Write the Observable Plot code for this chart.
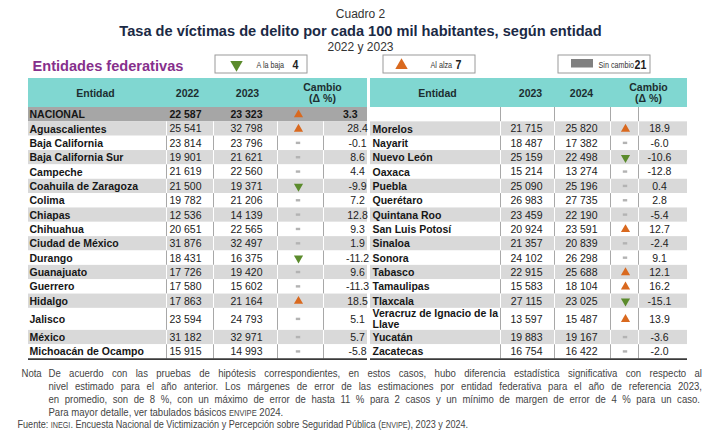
<!DOCTYPE html>
<html><head><meta charset="utf-8">
<script src="https://cdn.jsdelivr.net/npm/d3@7"></script>
<script src="https://cdn.jsdelivr.net/npm/@observablehq/plot@0.6"></script>
<style>body{margin:0;background:#fff} svg{display:block}</style>
</head><body><div id="chart"></div>
<script>
// ---------- DATA ----------
const cuadroLabel = "Cuadro 2";
const titleText = "Tasa de víctimas de delito por cada 100 mil habitantes, según entidad";
const subtitleText = "2022 y 2023";
const sectionLabel = "Entidades federativas";
const legendLabels = ["A la baja", "Al alza", "Sin cambio"];
const legendKinds = ["down", "up", "none"];
const legendCounts = [4, 7, 21];
const leftHeaders = ["Entidad", "2022", "2023", "Cambio\n(Δ %)"];
const rightHeaders = ["Entidad", "2023", "2024", "Cambio\n(Δ %)"];

const leftEntities = ["NACIONAL","Aguascalientes","Baja California","Baja California Sur","Campeche","Coahuila de Zaragoza","Colima","Chiapas","Chihuahua","Ciudad de México","Durango","Guanajuato","Guerrero","Hidalgo","Jalisco","México","Michoacán de Ocampo"];
const left2022 = [22587,25541,23814,19901,21619,21500,19782,12536,20651,31876,18431,17726,17580,17863,23594,31182,15915];
const left2023 = [23323,32798,23796,21621,22560,19371,21206,14139,22565,32497,16375,19420,15602,21164,24793,32971,14993];
const leftChange = [3.3,28.4,-0.1,8.6,4.4,-9.9,7.2,12.8,9.3,1.9,-11.2,9.6,-11.3,18.5,5.1,5.7,-5.8];
const leftTrend = ["up","up","none","none","none","down","none","none","none","none","down","none","none","up","none","none","none"];

const rightEntities = ["","Morelos","Nayarit","Nuevo León","Oaxaca","Puebla","Querétaro","Quintana Roo","San Luis Potosí","Sinaloa","Sonora","Tabasco","Tamaulipas","Tlaxcala","Veracruz de Ignacio de la\nLlave","Yucatán","Zacatecas"];
const right2023 = [null,21715,18487,25159,15214,25090,26983,23459,20924,21357,24102,22915,15583,27115,13597,19883,16754];
const right2024 = [null,25820,17382,22498,13274,25196,27735,22190,23591,20839,26298,25688,18104,23025,15487,19167,16422];
const rightChange = [null,18.9,-6.0,-10.6,-12.8,0.4,2.8,-5.4,12.7,-2.4,9.1,12.1,16.2,-15.1,13.9,-3.6,-2.0];
const rightTrend = [null,"up","none","down","none","none","none","none","up","none","none","up","up","down","up","none","none"];

const noteLabel = "Nota";
const noteLines = [
  "De acuerdo con las pruebas de hipótesis correspondientes, en estos casos, hubo diferencia estadística significativa con respecto al",
  "nivel estimado para el año anterior. Los márgenes de error de las estimaciones por entidad federativa para el año de referencia 2023,",
  "en promedio, son de 8 %, con un máximo de error de hasta 11 % para 2 casos y un mínimo de margen de error de 4 % para un caso.",
  "Para mayor detalle, ver tabulados básicos ENVIPE 2024."
];
const sourceLine = "Fuente: INEGI. Encuesta Nacional de Victimización y Percepción sobre Seguridad Pública (ENVIPE), 2023 y 2024.";

// ---------- LAYOUT / STYLE ----------
const W = 720, H = 437;
const SANS = "'Liberation Sans', Arial, Helvetica, sans-serif";
const NARROW = "'Liberation Sans Narrow', 'Arial Narrow', 'Liberation Sans', Arial, sans-serif";
const ORANGE = "#d9691f", GREEN = "#5b8b2c", CYAN = "#80d7d1", GRAY_ROW = "#d9d9d9", NAT_ROW = "#a6a6a6";
const HEAD_TOP = 78, TOP = 107, ROW_H = 14.35, TALL_H = 22, TALL_ROW = 14;
const rowTop = i => TOP + i * ROW_H + (i > TALL_ROW ? TALL_H - ROW_H : 0);
const rowHeight = i => (i === TALL_ROW ? TALL_H : ROW_H);
const BOTTOM = rowTop(leftEntities.length);

const panels = [
  {side: "L", x0: 28, x1: 367, nameX: 29, v1X: 185, v2X: 246, arrowX: 298, chgX: 357, chgAnchor: "end",
   lines: [166, 213, 277, 323], hdrX: [95, 187, 247, 322], headers: leftHeaders,
   names: leftEntities, a: left2022, b: left2023, chg: leftChange, trend: leftTrend},
  {side: "R", x0: 370, x1: 687, nameX: 372, v1X: 526, v2X: 581, arrowX: 625, chgX: 659, chgAnchor: "middle",
   lines: [500, 554, 610, 638], hdrX: [437, 530, 581, 648], headers: rightHeaders,
   names: rightEntities, a: right2023, b: right2024, chg: rightChange, trend: rightTrend}
];

const fmtN = v => (v == null ? "" : d3.format(",")(v).replace(/,/g, " "));
const fmtC = v => (v == null ? "" : v.toFixed(1));

const rows = [];
const segs = [];
const headers = [];
for (const p of panels) {
  p.headers.forEach((h, k) => headers.push({text: h, x: p.hdrX[k]}));
  p.names.forEach((name, i) => {
    const special = p.side === "L" && i === 0;
    const r = {
      p, i, name, special,
      a: fmtN(p.a[i]), b: fmtN(p.b[i]), c: fmtC(p.chg[i]), trend: p.trend[i],
      y0: rowTop(i), y1: rowTop(i) + rowHeight(i), yc: rowTop(i) + rowHeight(i) / 2,
      fill: special ? NAT_ROW : (i % 2 === 1 ? GRAY_ROW : "#ffffff")
    };
    rows.push(r);
    if (!special) {
      for (const lx of p.lines) segs.push({x: lx, y0: r.y0, y1: r.y1, stroke: i % 2 === 1 ? "#ffffff" : "#a8a8a8"});
    }
  });
}
const normal = rows.filter(r => !r.special);
const nat = rows.filter(r => r.special);

const legend = legendLabels.map((label, k) => ({
  label, kind: legendKinds[k], count: legendCounts[k],
  x0: [215, 383, 558][k], x1: [307, 475, 650][k],
  iconX: [236, 401, 582][k], labelX: [256, 430, 598][k], countX: [292, 455, 634][k]
}));
const LEG_Y0 = 55, LEG_Y1 = 73, LEG_YC = 64.5;

const NOTE_Y = [373, 386, 399, 412];
const SOURCE_Y = 424;
const NOTE_X = 48, SOURCE_X = 17;
const NOTE_TARGET = [702, 702, 700, 283];
const SOURCE_TARGET = 468;
const SECTION_X = 32, SECTION_TARGET = 183;

const k = v => () => v;

const plot = Plot.plot({
  width: W, height: H, margin: 0,
  x: {type: "linear", domain: [0, W], range: [0, W], axis: null},
  y: {type: "linear", domain: [0, H], range: [0, H], axis: null},
  color: {type: "identity"},
  marks: [
    Plot.rect(panels, {x1: "x0", x2: "x1", y1: k(HEAD_TOP), y2: k(TOP), fill: CYAN}),
    Plot.rect(rows, {x1: d => d.p.x0, x2: d => d.p.x1, y1: "y0", y2: "y1", fill: "fill"}),
    Plot.ruleX(segs, {x: "x", y1: "y0", y2: "y1", stroke: "stroke", strokeWidth: 1}),
    Plot.ruleY(panels, {y: k(BOTTOM), x1: "x0", x2: "x1", stroke: "#3a3a3a", strokeWidth: 1.6}),
    Plot.text(headers, {x: "x", y: k(92.5), text: "text", fontFamily: SANS, fontWeight: "bold", fontSize: 10.5, fill: "#1c2e30", lineHeight: 1.05}),
    Plot.text(rows, {x: d => d.p.nameX, y: "yc", text: "name", textAnchor: "start", fontFamily: SANS, fontWeight: "bold", fontSize: 10.5, fill: "#161616", lineHeight: 1.05}),
    Plot.text(normal, {x: d => d.p.v1X, y: "yc", text: "a", fontFamily: SANS, fontSize: 10.5, fill: "#222"}),
    Plot.text(normal, {x: d => d.p.v2X, y: "yc", text: "b", fontFamily: SANS, fontSize: 10.5, fill: "#222"}),
    Plot.text(normal, {x: d => d.p.chgX, y: "yc", text: "c", textAnchor: d => d.p.chgAnchor, fontFamily: SANS, fontSize: 10.5, fill: "#222"}),
    Plot.text(nat, {x: d => d.p.v1X, y: "yc", text: "a", fontFamily: SANS, fontWeight: "bold", fontSize: 10.5, fill: "#161616"}),
    Plot.text(nat, {x: d => d.p.v2X, y: "yc", text: "b", fontFamily: SANS, fontWeight: "bold", fontSize: 10.5, fill: "#161616"}),
    Plot.text(nat, {x: d => d.p.chgX, y: "yc", text: "c", textAnchor: "end", fontFamily: SANS, fontWeight: "bold", fontSize: 10.5, fill: "#161616"}),
    Plot.dot(rows.filter(r => r.trend === "up"), {x: d => d.p.arrowX, y: "yc", symbol: "triangle", r: 3.4, fill: ORANGE, stroke: null}),
    Plot.dot(rows.filter(r => r.trend === "down"), {x: d => d.p.arrowX, y: "yc", symbol: "triangle", r: 3.4, rotate: 180, fill: GREEN, stroke: null}),
    Plot.rect(rows.filter(r => r.trend === "none"), {x1: d => d.p.arrowX - 2.2, x2: d => d.p.arrowX + 2.2, y1: d => d.yc - 1.2, y2: d => d.yc + 1.2, fill: "#b3b3b3"}),
    Plot.text([cuadroLabel], {x: k(W / 2), y: k(14), text: d => d, fontFamily: SANS, fontSize: 12, fill: "#333"}),
    Plot.text([titleText], {x: k(W / 2), y: k(31), text: d => d, fontFamily: SANS, fontWeight: "bold", fontSize: 14.6, fill: "#1b2a45"}),
    Plot.text([subtitleText], {x: k(W / 2), y: k(46.5), text: d => d, fontFamily: SANS, fontSize: 12, fill: "#333"}),
    Plot.text([sectionLabel], {x: k(SECTION_X), y: k(66), text: d => d, textAnchor: "start", fontFamily: NARROW, fontWeight: "bold", fontSize: 15.5, fill: "#86308c"}),
    Plot.rect(legend, {x1: "x0", x2: "x1", y1: k(LEG_Y0), y2: k(LEG_Y1), fill: "#fff", stroke: "#9a9a9a", strokeWidth: 1}),
    Plot.dot(legend.filter(d => d.kind === "down"), {x: "iconX", y: k(LEG_YC - 0.5), symbol: "triangle", r: 4.6, rotate: 180, fill: GREEN, stroke: null}),
    Plot.dot(legend.filter(d => d.kind === "up"), {x: "iconX", y: k(LEG_YC + 0.5), symbol: "triangle", r: 4.6, fill: ORANGE, stroke: null}),
    Plot.rect(legend.filter(d => d.kind === "none"), {x1: d => d.iconX - 11, x2: d => d.iconX + 11, y1: k(LEG_YC - 5.5), y2: k(LEG_YC + 3), fill: "#808080"}),
    Plot.text(legend, {x: "labelX", y: k(LEG_YC), text: "label", textAnchor: "start", fontFamily: NARROW, fontSize: 8.8, fill: "#333"}),
    Plot.text(legend, {x: "countX", y: k(LEG_YC - 0.5), text: "count", textAnchor: "start", fontFamily: NARROW, fontWeight: "bold", fontSize: 13, fill: "#222"}),
    Plot.text([noteLabel], {x: k(21), y: k(NOTE_Y[0]), text: d => d, textAnchor: "start", fontFamily: NARROW, fontSize: 10.5, fill: "#444"}),
    Plot.text(noteLines, {x: k(NOTE_X), y: (d, i) => NOTE_Y[i], text: d => d, textAnchor: "start", fontFamily: NARROW, fontSize: 10.5, fill: "#444"}),
    Plot.text([sourceLine], {x: k(SOURCE_X), y: k(SOURCE_Y), text: d => d, textAnchor: "start", fontFamily: NARROW, fontSize: 10.5, fill: "#444"})
  ]
});
document.getElementById("chart").appendChild(plot);

// ---- post-processing: small caps acronyms, narrow-font emulation, justification ----
const NS = "http://www.w3.org/2000/svg";
function probe(fam) {
  const t = document.createElementNS(NS, "text");
  t.setAttribute("font-family", fam); t.setAttribute("font-size", 20);
  t.textContent = "abcdefghij klmnop ABCDEFG";
  plot.appendChild(t);
  const w = t.getComputedTextLength(); t.remove(); return w;
}
const squeeze = probe(NARROW) / probe(SANS) > 0.93 ? 0.82 : 1;

function scaleX(el, s) {
  const tr = el.getAttribute("transform") || "";
  const x = +el.getAttribute("x") || 0, y = +el.getAttribute("y") || 0;
  if (x || y) {
    el.removeAttribute("x"); el.removeAttribute("y");
    el.setAttribute("transform", `${tr} translate(${x},${y}) scale(${s},1)`);
  } else {
    el.setAttribute("transform", `${tr} scale(${s},1)`);
  }
}

const svg = d3.select(plot);
svg.selectAll("text").each(function () {
  const el = this;
  if (el.querySelector("tspan")) return;
  const t = el.textContent;
  if (!/ENVIPE|INEGI/.test(t)) return;
  el.textContent = "";
  t.split(/(ENVIPE|INEGI)/).forEach(part => {
    if (!part) return;
    const ts = document.createElementNS(NS, "tspan");
    ts.textContent = part;
    if (part === "ENVIPE" || part === "INEGI") ts.setAttribute("font-size", "8.3");
    el.appendChild(ts);
  });
});

// note glyph scale derived from the last (non-justified) note line
const narrowTexts = svg.selectAll("g[font-family*='Narrow'] text").nodes();
const lastNote = narrowTexts.find(el => el.textContent === noteLines[3]);
const noteScale = lastNote ? (NOTE_TARGET[3] - NOTE_X) / lastNote.getComputedTextLength() : squeeze;

for (const el of narrowTexts) {
  const t = el.textContent;
  const natural = el.getComputedTextLength();
  if (t === sectionLabel) { scaleX(el, (SECTION_TARGET - SECTION_X) / natural); continue; }
  if (t === sourceLine) { scaleX(el, (SOURCE_TARGET - SOURCE_X) / natural); continue; }
  if (t === noteLabel) { scaleX(el, noteScale); continue; }
  const idx = noteLines.indexOf(t);
  if (idx === 3) { scaleX(el, noteScale); continue; }
  if (idx >= 0) {
    const target = NOTE_TARGET[idx] - NOTE_X;
    const spaces = (t.match(/ /g) || []).length;
    const ws = (target / noteScale - natural) / spaces;
    if (ws > 0) { el.setAttribute("word-spacing", ws.toFixed(3)); scaleX(el, noteScale); }
    else scaleX(el, target / natural);
    continue;
  }
  if (squeeze !== 1) scaleX(el, squeeze);
}
</script>
</body></html>
